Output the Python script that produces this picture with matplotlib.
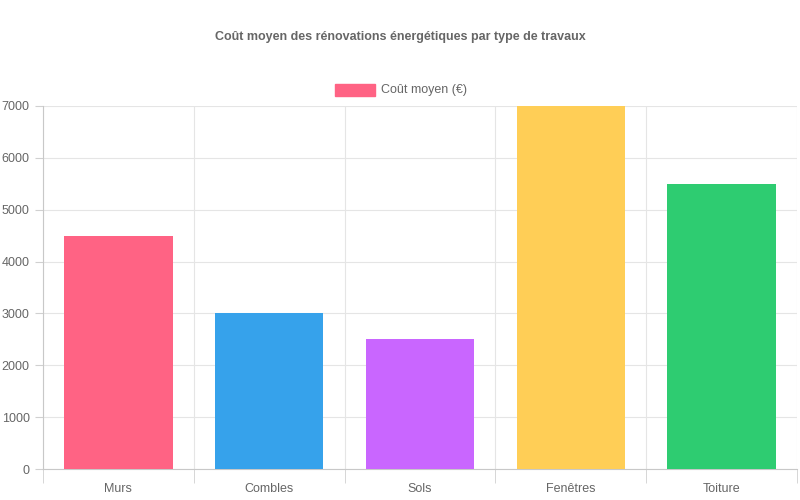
import matplotlib
matplotlib.use("Agg")
import matplotlib.pyplot as plt
import numpy as np

categories = ["Murs", "Combles", "Sols", "Fenêtres", "Toiture"]
values = [4500, 3000, 2500, 7000, 5500]
colors = ["#FF6384", "#36A2EB", "#C966FF", "#FFCE56", "#2ECC71"]
yticks = [0, 1000, 2000, 3000, 4000, 5000, 6000, 7000]

plt.rcParams['font.family'] = ['Liberation Sans', 'DejaVu Sans']
fig = plt.figure(figsize=(8, 5), dpi=100)
ax = fig.add_axes([43/800, 31/500, 754/800, 363/500])
x = np.arange(len(categories))
ax.bar(x, values, width=0.72, color=colors, zorder=3)
ax.set_xlim(-0.5, len(categories) - 0.5)
ax.set_ylim(0, 7000)
ax.set_yticks(yticks)
ax.set_xticks(x)
ax.set_xticklabels(categories)
ax.set_xticks(np.arange(-0.5, len(categories)), minor=True)
ax.grid(True, which='minor', axis='x', color='#e5e5e5', lw=0.8, zorder=0)
ax.grid(True, which='major', axis='y', color='#e5e5e5', lw=0.8, zorder=0)
ax.tick_params(axis='x', which='major', length=0, pad=10, labelsize=9, labelcolor='#666666')
ax.tick_params(axis='x', which='minor', length=10, color='#d0d0d0')
ax.tick_params(axis='y', length=6, color='#d0d0d0', labelsize=9, labelcolor='#666666')
for s in ['top', 'right']:
    ax.spines[s].set_visible(False)
for s in ['left', 'bottom']:
    ax.spines[s].set_color('#c8c8c8')
fig.text(0.5, 1 - 37/500, "Coût moyen des rénovations énergétiques par type de travaux",
         ha='center', va='center', fontsize=9, fontweight='bold', color='#666666')
fig.patches.append(plt.Rectangle((335/800, 1 - 96/500), 40/800, 12/500,
                                 transform=fig.transFigure, color=colors[0]))
fig.text(381/800, 1 - 90/500, "Coût moyen (€)", ha='left', va='center',
         fontsize=9, color='#666666')
fig.savefig("out.png", dpi=100, facecolor='white')
